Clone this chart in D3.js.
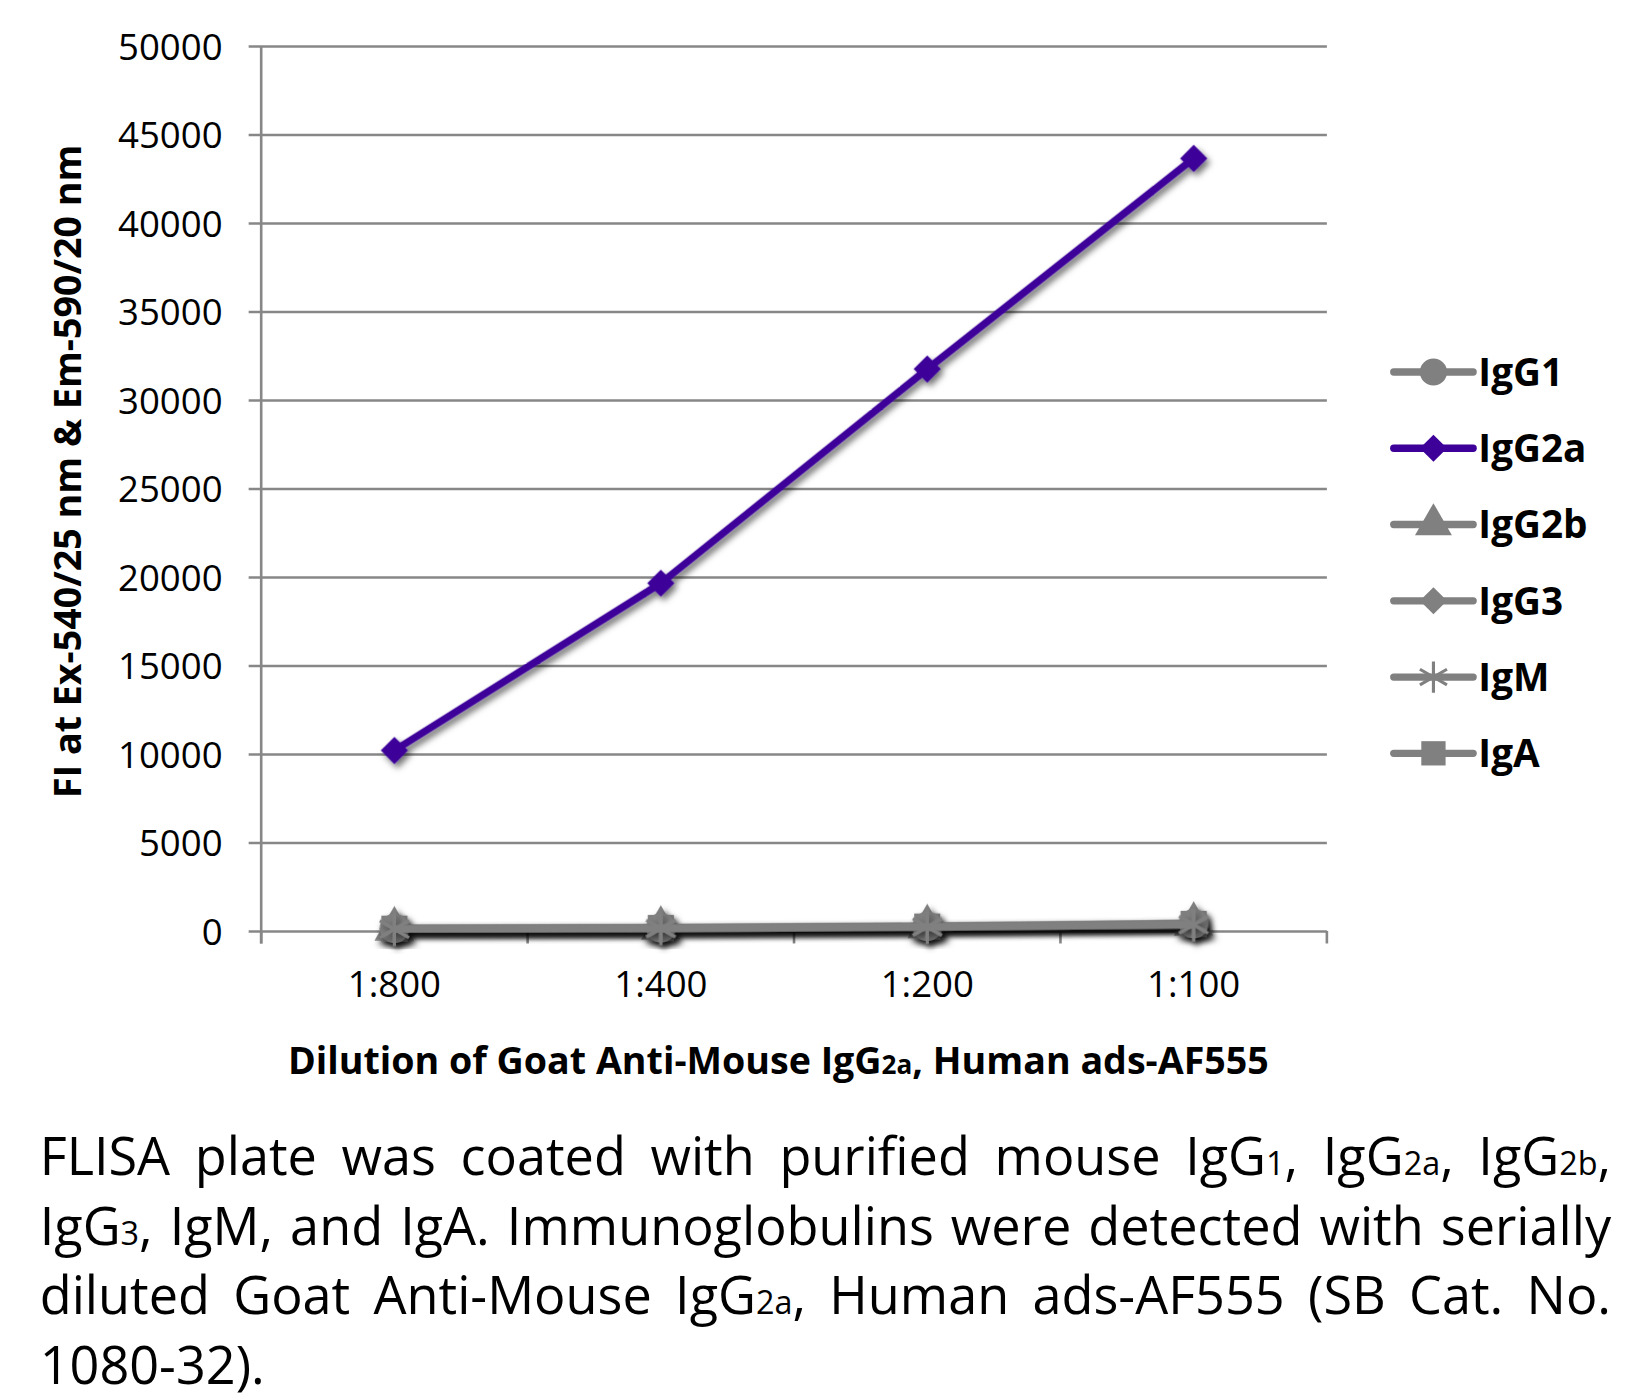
<!DOCTYPE html>
<html>
<head>
<meta charset="utf-8">
<script src="https://cdn.jsdelivr.net/npm/d3@7"></script>
<style>
  body { margin: 0; background: #fff; }
  svg { display: block; }
  text { font-family: "Open Sans", sans-serif; fill: #000; }
</style>
</head>
<body>
<div id="chart"></div>
<script>
// dilutions on the x axis
var dilutions = ["1:800", "1:400", "1:200", "1:100"];
var yTicks = [0, 5000, 10000, 15000, 20000, 25000, 30000, 35000, 40000, 45000, 50000];

// fluorescence per isotype
var igG1 = [150, 180, 260, 420];
var igG2a = [10200, 19650, 31750, 43650];
var igG2b = [120, 160, 240, 380];
var igG3 = [110, 150, 230, 360];
var igM = [100, 140, 220, 350];
var igA = [130, 170, 250, 400];

var seriesNames = ["IgG1", "IgG2a", "IgG2b", "IgG3", "IgM", "IgA"];
var seriesValues = [igG1, igG2a, igG2b, igG3, igM, igA];
var seriesColors = ["#808080", "#3d0099", "#808080", "#808080", "#808080", "#808080"];
var seriesMarkers = ["circle", "diamond", "triangle", "diamond", "star", "square"];

var captionLines = [
  "FLISA plate was coated with purified mouse IgG{1}, IgG{2a}, IgG{2b},",
  "IgG{3}, IgM, and IgA.  Immunoglobulins were detected with serially",
  "diluted Goat Anti-Mouse IgG{2a}, Human ads-AF555 (SB Cat. No.",
  "1080-32)."
];

var W = 1563, H = 1338;
var svg = d3.select("#chart").append("svg")
  .attr("width", 1633).attr("height", 1398)
  .attr("viewBox", "0 0 " + W + " " + H);

var defs = svg.append("defs");
defs.append("filter").attr("id", "shadow")
  .attr("x", "-20%").attr("y", "-20%").attr("width", "140%").attr("height", "140%")
  .append("feDropShadow")
  .attr("dx", 3).attr("dy", 4).attr("stdDeviation", 3)
  .attr("flood-color", "#000").attr("flood-opacity", 0.55);

var plot = {left: 250, right: 1270, top: 44, bottom: 891};

var x = d3.scaleBand().domain(dilutions).range([plot.left, plot.right]);
var y = d3.scaleLinear().domain([0, 50000]).range([plot.bottom, plot.top]);

var gridColor = "#878787";

// y axis with gridlines
var yAxis = svg.append("g")
  .attr("transform", "translate(" + (plot.left - 12) + ",0)")
  .call(d3.axisLeft(y).tickValues(yTicks).tickFormat(d3.format("d"))
    .tickSize(-(plot.right - plot.left + 12)).tickPadding(25));
yAxis.select(".domain").remove();
yAxis.selectAll("line").attr("stroke", gridColor).attr("stroke-width", 2.5);
yAxis.selectAll("text").style("font-size", "35px").attr("dy", "0.36em");

svg.append("line")
  .attr("x1", plot.left).attr("x2", plot.left)
  .attr("y1", y(50000)).attr("y2", plot.bottom + 12)
  .attr("stroke", gridColor).attr("stroke-width", 2.5);

// x axis labels and boundary ticks
var xAxis = svg.append("g")
  .attr("transform", "translate(0," + plot.bottom + ")")
  .call(d3.axisBottom(x).tickSize(0));
xAxis.select(".domain").remove();
xAxis.selectAll("text").style("font-size", "35px").attr("y", 38);

var bounds = dilutions.map(function (d) { return x(d); }).concat([x(dilutions[dilutions.length - 1]) + x.bandwidth()]);
svg.append("g").selectAll("line").data(bounds).enter().append("line")
  .attr("x1", function (d) { return d; }).attr("x2", function (d) { return d; })
  .attr("y1", plot.bottom).attr("y2", plot.bottom + 12)
  .attr("stroke", gridColor).attr("stroke-width", 2.5);

// marker drawing
function markerPath(type, s) {
  if (type === "circle") return d3.symbol().type(d3.symbolCircle).size(Math.PI * s * s)();
  if (type === "square") return d3.symbol().type(d3.symbolSquare).size(4 * s * s * 0.8)();
  if (type === "triangle") return d3.symbol().type(d3.symbolTriangle).size(3.2 * s * s)();
  if (type === "diamond") return "M0," + (-s) + "L" + s + ",0L0," + s + "L" + (-s) + ",0Z";
  if (type === "star") {
    var a = s * 1.15, p = "";
    [0, 60, 120].forEach(function (deg) {
      var r = (deg + 90) * Math.PI / 180;
      var dx = Math.cos(r) * a, dy = Math.sin(r) * a;
      p += "M" + (-dx) + "," + (-dy) + "L" + dx + "," + dy;
    });
    return p;
  }
}
function drawMarker(g, type, color, cx, cy, s) {
  var m = g.append("path").attr("d", markerPath(type, s))
    .attr("transform", "translate(" + cx + "," + cy + ")");
  if (type === "star") m.attr("fill", "none").attr("stroke", color).attr("stroke-width", 3);
  else m.attr("fill", color);
}

var line = d3.line()
  .x(function (d, i) { return x(dilutions[i]) + x.bandwidth() / 2; })
  .y(function (d) { return y(d); });

// gray series first, purple on top
var order = [2, 3, 5, 0, 4, 1];
order.forEach(function (k) {
  var g = svg.append("g").attr("filter", "url(#shadow)");
  g.append("path").datum(seriesValues[k])
    .attr("d", line).attr("fill", "none")
    .attr("stroke", seriesColors[k]).attr("stroke-width", 7)
    .attr("stroke-linejoin", "round");
  seriesValues[k].forEach(function (v, i) {
    drawMarker(g, seriesMarkers[k], seriesColors[k], x(dilutions[i]) + x.bandwidth() / 2, y(v), k === 1 ? 13 : 14);
  });
});

// legend
var legend = svg.append("g");
seriesNames.forEach(function (name, i) {
  var ly = 356 + i * 73;
  var g = legend.append("g");
  g.append("line").attr("x1", 1334).attr("x2", 1410).attr("y1", ly).attr("y2", ly)
    .attr("stroke", seriesColors[i]).attr("stroke-width", 7).attr("stroke-linecap", "round");
  drawMarker(g, seriesMarkers[i], seriesColors[i], 1372, ly, 13);
  g.append("text").attr("x", 1415).attr("y", ly).attr("dy", "0.36em")
    .style("font-size", "37px").style("font-weight", "bold").text(name);
});

// axis titles
svg.append("text")
  .attr("transform", "translate(78,451) rotate(-90)")
  .attr("text-anchor", "middle")
  .style("font-size", "36px").style("font-weight", "bold")
  .text("FI at Ex-540/25 nm & Em-590/20 nm");

var xt = svg.append("text")
  .attr("x", 745).attr("y", 1028).attr("text-anchor", "middle")
  .style("font-size", "36px").style("font-weight", "bold");
xt.append("tspan").text("Dilution of Goat Anti-Mouse IgG");
xt.append("tspan").style("font-size", "25px").text("2a");
xt.append("tspan").text(", Human ads-AF555");

// caption, justified
function addRich(t, str) {
  str.split(/(\{[^}]*\})/).forEach(function (part) {
    if (!part) return;
    if (part[0] === "{") t.append("tspan").style("font-size", "0.62em").text(part.slice(1, -1));
    else t.append("tspan").text(part);
  });
}
var capLeft = 38, capRight = 1542, capSize = 50;
var baselines = [1125, 1192, 1258, 1325];
captionLines.forEach(function (ln, li) {
  var words = ln.split(/\s+/);
  var els = words.map(function (w) {
    var t = svg.append("text").attr("y", baselines[li]).style("font-size", capSize + "px");
    addRich(t, w);
    return t;
  });
  var widths = els.map(function (t) { return t.node().getComputedTextLength(); });
  var total = d3.sum(widths);
  var justify = li < captionLines.length - 1;
  var gap = justify ? (capRight - capLeft - total) / (words.length - 1) : capSize * 0.26;
  var cx = capLeft;
  els.forEach(function (t, i) {
    t.attr("x", cx);
    cx += widths[i] + gap;
  });
});
</script>
</body>
</html>
